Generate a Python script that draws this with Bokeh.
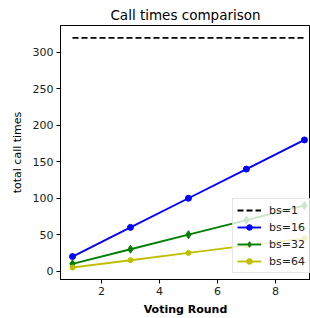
from bokeh.plotting import figure
from bokeh.models import Range1d, FixedTicker, Legend, LegendItem
from bokeh.embed import file_html
from bokeh.resources import INLINE

rounds = [1, 3, 5, 7, 9]
bs1 = [320, 320, 320, 320, 320]
bs16 = [20, 60, 100, 140, 180]
bs32 = [10, 30, 50, 70, 90]
bs64 = [5, 15, 25, 35, 45]
x_ticks = [2, 4, 6, 8]
y_ticks = [0, 50, 100, 150, 200, 250, 300]

FONT = "DejaVu Sans"

p = figure(width=310, height=318, output_backend="svg", toolbar_location=None,
           x_range=Range1d(0.586, 9.21), y_range=Range1d(-11.5, 337),
           min_border_left=60, min_border_right=0, min_border_top=25, min_border_bottom=39)

p.title.text = "Call times comparison"
p.title.align = "center"
p.title.text_font = FONT
p.title.text_font_size = "13.5px"
p.title.text_font_style = "normal"
p.title.text_color = "black"
p.title.standoff = 5

p.xgrid.visible = False
p.ygrid.visible = False
p.outline_line_color = "black"
p.outline_line_width = 1
p.background_fill_color = "white"
p.border_fill_color = "white"

for ax in (p.xaxis[0], p.yaxis[0]):
    ax.major_tick_in = 0
    ax.major_tick_out = 4
    ax.minor_tick_in = 0
    ax.minor_tick_out = 0
    ax.axis_line_color = "black"
    ax.major_tick_line_color = "black"
    ax.major_label_text_font = FONT
    ax.major_label_text_font_size = "11px"
    ax.major_label_text_color = "#222222"
    ax.axis_label_text_font = FONT
    ax.axis_label_text_font_size = "11px"
    ax.axis_label_text_color = "black"

p.xaxis.ticker = FixedTicker(ticks=x_ticks)
p.yaxis.ticker = FixedTicker(ticks=y_ticks)
p.xaxis.axis_label = "Voting Round"
p.xaxis.axis_label_text_font_style = "bold"
p.xaxis.axis_label_standoff = 5
p.xaxis.major_label_standoff = 3
p.yaxis.axis_label = "total call times"
p.yaxis.axis_label_text_font_style = "normal"
p.yaxis.axis_label_standoff = 6
p.yaxis.major_label_standoff = 3

LW = 1.9
l1 = p.line(rounds, bs1, line_color="black", line_width=LW, line_dash="6 3")
l16 = p.line(rounds, bs16, line_color="#0000ff", line_width=LW)
m16 = p.scatter(rounds, bs16, marker="circle", size=6, fill_color="#0000ff", line_color="#0000ff")
l32 = p.line(rounds, bs32, line_color="#008000", line_width=LW)
m32 = p.scatter(rounds, bs32, marker="diamond", size=8,
                fill_color="#008000", line_color="#008000")
l64 = p.line(rounds, bs64, line_color="#bfbf00", line_width=LW)
m64 = p.scatter(rounds, bs64, marker="circle", size=5, fill_color="#bfbf00", line_color="#bfbf00")

legend = Legend(items=[
    LegendItem(label="bs=1", renderers=[l1]),
    LegendItem(label="bs=16", renderers=[l16, m16]),
    LegendItem(label="bs=32", renderers=[l32, m32]),
    LegendItem(label="bs=64", renderers=[l64, m64]),
], location=(172, 6))
legend.label_text_font = FONT
legend.label_text_font_size = "11px"
legend.label_text_color = "#222222"
legend.background_fill_alpha = 0.8
legend.border_line_color = "#cccccc"
legend.border_line_width = 1
legend.glyph_width = 24
legend.glyph_height = 14
legend.label_height = 14
legend.spacing = 3
legend.padding = 4
legend.margin = 0
legend.label_standoff = 8
p.add_layout(legend, "center")

open("out.html", "w").write(file_html(p, INLINE))
